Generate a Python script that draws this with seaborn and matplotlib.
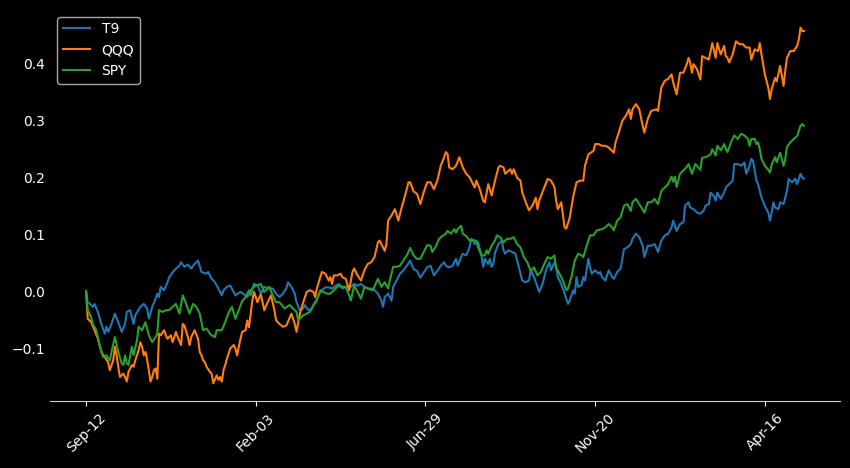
import matplotlib
matplotlib.use("Agg")
import matplotlib.pyplot as plt
import seaborn as sns
import pandas as pd

tick_positions = [0, 100, 200, 300, 400]
tick_labels = ["Sep-12", "Feb-03", "Jun-29", "Nov-20", "Apr-16"]
series_names = ["T9", "QQQ", "SPY"]
colors = ["#1f77b4", "#ff7f0e", "#2ca02c"]

# (trading-day index, cumulative return)
t9 = [(0, 0.0), (1, -0.019), (2, -0.021), (4, -0.027), (5, -0.022), (7, -0.036), (9, -0.057),
      (11, -0.074), (12, -0.062), (13, -0.071), (15, -0.057), (17, -0.039), (19, -0.054),
      (21, -0.071), (23, -0.057), (24, -0.036), (26, -0.033), (28, -0.057), (29, -0.042),
      (32, -0.027), (34, -0.022), (36, -0.030), (37, -0.048), (39, -0.027), (41, -0.013),
      (42, -0.004), (43, -0.010), (44, 0.008), (46, 0.002), (48, 0.016), (49, 0.025),
      (52, 0.037), (55, 0.045), (56, 0.051), (58, 0.043), (60, 0.047), (62, 0.040),
      (64, 0.048), (66, 0.054), (68, 0.034), (71, 0.031), (72, 0.034), (74, 0.022),
      (76, 0.016), (77, 0.010), (79, -0.001), (80, -0.007), (81, 0.002), (83, 0.008),
      (85, 0.010), (87, -0.001), (88, -0.007), (91, -0.001), (94, -0.007), (95, -0.010),
      (97, 0.002), (99, 0.008), (101, 0.012), (103, -0.004), (105, 0.008), (108, 0.005),
      (110, 0.005), (112, -0.004), (114, -0.010), (116, -0.004), (118, 0.005), (119, 0.016),
      (121, 0.008), (123, -0.004), (124, -0.019), (126, -0.033), (128, -0.030), (129, -0.024),
      (131, -0.033), (133, -0.030), (135, -0.019), (137, -0.007), (139, 0.002), (141, 0.007),
      (143, 0.007), (145, 0.005), (147, 0.010), (149, 0.013), (151, 0.005), (153, 0.008),
      (156, 0.008), (158, 0.013), (160, 0.010), (162, 0.013), (164, 0.008), (166, 0.005),
      (168, 0.005), (170, 0.002), (172, -0.004), (174, -0.016), (175, -0.027), (176, -0.010),
      (178, -0.004), (180, -0.016), (181, 0.008), (183, 0.019), (185, 0.031), (187, 0.037),
      (189, 0.045), (191, 0.054), (193, 0.039), (195, 0.036), (197, 0.024), (199, 0.033),
      (201, 0.042), (203, 0.045), (205, 0.028), (207, 0.036), (209, 0.045), (211, 0.051),
      (212, 0.045), (214, 0.042), (216, 0.045), (218, 0.057), (219, 0.045), (221, 0.060),
      (222, 0.066), (224, 0.063), (226, 0.077), (227, 0.092), (228, 0.090), (229, 0.083),
      (231, 0.086), (233, 0.063), (234, 0.043), (235, 0.057), (237, 0.048), (238, 0.057),
      (239, 0.043), (240, 0.048), (241, 0.068), (243, 0.083), (245, 0.089), (246, 0.072),
      (247, 0.066), (249, 0.072), (251, 0.069), (253, 0.066), (255, 0.043), (257, 0.019),
      (259, 0.016), (261, 0.019), (262, 0.037), (264, 0.025), (266, 0.008), (267, -0.001),
      (269, 0.013), (271, 0.037), (273, 0.051), (274, 0.037), (276, 0.051), (277, 0.042),
      (278, 0.025), (280, 0.013), (282, -0.004), (284, -0.022), (285, -0.016), (287, 0.002),
      (288, -0.004), (289, 0.025), (290, 0.008), (292, 0.011), (293, 0.025), (294, 0.019),
      (296, 0.057), (297, 0.042), (298, 0.031), (300, 0.037), (302, 0.031), (303, 0.034),
      (304, 0.025), (306, 0.019), (308, 0.037), (310, 0.025), (311, 0.022), (313, 0.034),
      (315, 0.040), (317, 0.074), (319, 0.077), (321, 0.083), (322, 0.092), (324, 0.101),
      (326, 0.095), (328, 0.080), (329, 0.060), (331, 0.080), (333, 0.080), (335, 0.083),
      (337, 0.069), (339, 0.089), (341, 0.098), (343, 0.101), (345, 0.112), (346, 0.124),
      (348, 0.106), (350, 0.118), (352, 0.121), (353, 0.150), (355, 0.156), (356, 0.147),
      (358, 0.144), (360, 0.138), (362, 0.136), (364, 0.142), (365, 0.150), (367, 0.153),
      (368, 0.173), (370, 0.167), (371, 0.159), (372, 0.173), (374, 0.162), (376, 0.173),
      (377, 0.182), (379, 0.188), (381, 0.194), (382, 0.223), (384, 0.223), (386, 0.220),
      (388, 0.226), (389, 0.206), (391, 0.220), (392, 0.232), (393, 0.229), (395, 0.194),
      (396, 0.188), (398, 0.164), (400, 0.150), (402, 0.138), (403, 0.124), (404, 0.138),
      (405, 0.156), (406, 0.147), (408, 0.144), (409, 0.156), (411, 0.153), (413, 0.176),
      (414, 0.197), (416, 0.191), (418, 0.197), (419, 0.188), (421, 0.206), (422, 0.200),
      (423, 0.197)]

qqq = [(0, 0.0), (1, -0.048), (3, -0.054), (5, -0.068), (7, -0.083), (9, -0.106), (11, -0.115),
       (13, -0.124), (14, -0.138), (16, -0.121), (17, -0.097), (18, -0.112), (19, -0.132),
       (20, -0.150), (22, -0.144), (23, -0.150), (24, -0.158), (25, -0.141), (27, -0.129),
       (28, -0.132), (29, -0.121), (31, -0.103), (32, -0.089), (33, -0.097), (34, -0.112),
       (35, -0.106), (36, -0.120), (37, -0.138), (38, -0.158), (39, -0.150), (40, -0.138),
       (41, -0.135), (42, -0.153), (43, -0.074), (44, -0.077), (46, -0.068), (47, -0.077),
       (48, -0.083), (50, -0.077), (51, -0.089), (52, -0.080), (53, -0.071), (54, -0.080),
       (56, -0.094), (57, -0.057), (58, -0.060), (60, -0.080), (61, -0.094), (62, -0.080),
       (64, -0.068), (66, -0.083), (67, -0.106), (68, -0.112), (69, -0.121), (70, -0.124),
       (71, -0.132), (73, -0.141), (74, -0.144), (75, -0.161), (77, -0.147), (78, -0.155),
       (79, -0.150), (80, -0.158), (81, -0.138), (82, -0.129), (83, -0.118), (85, -0.100),
       (87, -0.094), (88, -0.100), (89, -0.112), (91, -0.083), (92, -0.071), (94, -0.068),
       (95, -0.051), (96, -0.063), (97, -0.039), (98, -0.016), (99, -0.001), (100, -0.010),
       (101, -0.019), (103, -0.005), (105, -0.033), (107, -0.019), (109, -0.007), (111, -0.033),
       (112, -0.051), (114, -0.057), (116, -0.062), (118, -0.060), (121, -0.039), (123, -0.057),
       (124, -0.071), (126, -0.039), (128, -0.019), (130, -0.001), (132, 0.002), (134, -0.001),
       (135, -0.010), (136, 0.005), (138, 0.025), (139, 0.034), (141, 0.031), (143, 0.019),
       (144, 0.025), (145, 0.013), (146, 0.028), (148, 0.028), (150, 0.031), (151, 0.025),
       (153, 0.022), (155, 0.002), (157, 0.034), (158, 0.040), (160, 0.028), (162, 0.019),
       (164, 0.037), (166, 0.048), (168, 0.051), (170, 0.060), (172, 0.086), (173, 0.089),
       (176, 0.071), (177, 0.083), (178, 0.124), (180, 0.133), (182, 0.144), (184, 0.124),
       (186, 0.147), (188, 0.168), (190, 0.191), (191, 0.191), (193, 0.175), (195, 0.171),
       (197, 0.153), (199, 0.174), (201, 0.191), (203, 0.191), (205, 0.179), (207, 0.194),
       (209, 0.220), (211, 0.235), (212, 0.244), (213, 0.241), (214, 0.217), (216, 0.214),
       (218, 0.220), (220, 0.235), (222, 0.217), (224, 0.206), (226, 0.200), (228, 0.188),
       (229, 0.182), (230, 0.194), (232, 0.179), (234, 0.159), (235, 0.156), (237, 0.188),
       (239, 0.168), (241, 0.194), (243, 0.217), (244, 0.220), (246, 0.217), (247, 0.206),
       (250, 0.214), (251, 0.206), (252, 0.214), (254, 0.199), (256, 0.194), (257, 0.174),
       (259, 0.157), (261, 0.142), (263, 0.150), (265, 0.164), (266, 0.144), (267, 0.159),
       (269, 0.174), (272, 0.197), (274, 0.194), (276, 0.183), (277, 0.159), (278, 0.144),
       (280, 0.156), (282, 0.112), (283, 0.110), (285, 0.129), (287, 0.165), (289, 0.191),
       (291, 0.194), (293, 0.194), (294, 0.220), (296, 0.240), (299, 0.246), (300, 0.258),
       (302, 0.258), (304, 0.255), (306, 0.255), (308, 0.252), (310, 0.246), (311, 0.243),
       (312, 0.261), (314, 0.279), (316, 0.299), (318, 0.307), (320, 0.319), (321, 0.302),
       (322, 0.319), (324, 0.328), (326, 0.319), (328, 0.290), (329, 0.278), (331, 0.302),
       (333, 0.316), (336, 0.319), (337, 0.316), (339, 0.357), (341, 0.369), (343, 0.372),
       (345, 0.380), (346, 0.366), (348, 0.345), (350, 0.383), (352, 0.383), (354, 0.398),
       (355, 0.409), (356, 0.401), (357, 0.383), (358, 0.398), (360, 0.389), (362, 0.371),
       (363, 0.412), (365, 0.409), (367, 0.406), (369, 0.435), (371, 0.409), (372, 0.435),
       (374, 0.415), (376, 0.430), (377, 0.412), (378, 0.409), (379, 0.401), (381, 0.415),
       (383, 0.438), (385, 0.433), (387, 0.433), (389, 0.427), (391, 0.427), (392, 0.406),
       (394, 0.424), (396, 0.421), (397, 0.435), (398, 0.415), (400, 0.380), (402, 0.357),
       (403, 0.337), (404, 0.354), (406, 0.374), (407, 0.368), (409, 0.395), (411, 0.360),
       (412, 0.386), (413, 0.409), (415, 0.421), (417, 0.421), (419, 0.430), (420, 0.441),
       (421, 0.462), (422, 0.456), (423, 0.456)]

spy = [(0, 0.0), (1, -0.033), (3, -0.045), (4, -0.057), (6, -0.068), (8, -0.094), (10, -0.115),
       (12, -0.112), (14, -0.121), (15, -0.106), (17, -0.080), (19, -0.106), (21, -0.126),
       (22, -0.129), (23, -0.112), (24, -0.126), (25, -0.129), (27, -0.097), (28, -0.112),
       (30, -0.086), (31, -0.062), (33, -0.068), (35, -0.054), (37, -0.077), (39, -0.089),
       (41, -0.080), (42, -0.074), (43, -0.033), (45, -0.036), (47, -0.033), (49, -0.033),
       (51, -0.027), (53, -0.022), (55, -0.039), (57, -0.007), (59, -0.022), (61, -0.039),
       (63, -0.022), (65, -0.027), (67, -0.039), (69, -0.068), (71, -0.065), (73, -0.074),
       (74, -0.077), (76, -0.080), (77, -0.068), (78, -0.068), (80, -0.068), (82, -0.054),
       (84, -0.037), (86, -0.027), (88, -0.048), (90, -0.033), (92, -0.017), (94, -0.010),
       (96, 0.002), (97, -0.007), (99, 0.013), (101, 0.010), (103, 0.013), (105, -0.001),
       (108, 0.008), (110, -0.007), (112, -0.019), (114, -0.019), (117, -0.030), (120, -0.024),
       (122, -0.030), (124, -0.036), (125, -0.051), (127, -0.045), (128, -0.042), (130, -0.039),
       (132, -0.036), (134, -0.024), (136, -0.016), (138, 0.002), (140, -0.001), (142, -0.004),
       (144, -0.004), (146, 0.002), (148, 0.008), (150, 0.010), (151, 0.008), (153, 0.008),
       (155, -0.007), (156, -0.016), (158, 0.010), (160, -0.001), (162, -0.013), (164, 0.008),
       (166, 0.005), (169, 0.002), (172, 0.022), (174, 0.008), (176, 0.016), (178, 0.005),
       (179, 0.019), (181, 0.043), (183, 0.043), (185, 0.045), (187, 0.054), (189, 0.063),
       (191, 0.076), (193, 0.063), (195, 0.057), (197, 0.057), (199, 0.069), (201, 0.081),
       (203, 0.080), (204, 0.069), (206, 0.078), (208, 0.092), (210, 0.097), (212, 0.101),
       (213, 0.106), (215, 0.101), (217, 0.109), (218, 0.103), (219, 0.109), (221, 0.115),
       (222, 0.101), (224, 0.097), (226, 0.089), (228, 0.089), (230, 0.089), (231, 0.077),
       (233, 0.063), (235, 0.063), (236, 0.072), (237, 0.066), (239, 0.080), (241, 0.089),
       (242, 0.098), (244, 0.095), (246, 0.086), (248, 0.092), (250, 0.092), (252, 0.095),
       (254, 0.083), (256, 0.077), (258, 0.060), (260, 0.051), (262, 0.036), (264, 0.042),
       (266, 0.028), (268, 0.034), (270, 0.048), (272, 0.060), (274, 0.057), (276, 0.063),
       (277, 0.042), (279, 0.031), (281, 0.019), (283, 0.002), (284, 0.005), (286, 0.025),
       (288, 0.054), (290, 0.066), (292, 0.063), (293, 0.060), (295, 0.080), (297, 0.098),
       (299, 0.098), (301, 0.107), (304, 0.109), (306, 0.112), (308, 0.118), (310, 0.112),
       (311, 0.107), (313, 0.124), (315, 0.130), (317, 0.150), (319, 0.153), (321, 0.141),
       (322, 0.156), (324, 0.162), (326, 0.153), (329, 0.138), (331, 0.156), (333, 0.156),
       (335, 0.162), (337, 0.153), (339, 0.176), (341, 0.182), (343, 0.188), (345, 0.201),
       (346, 0.192), (347, 0.201), (348, 0.183), (350, 0.206), (352, 0.212), (354, 0.218),
       (355, 0.223), (357, 0.206), (359, 0.223), (362, 0.213), (363, 0.234), (365, 0.235),
       (368, 0.240), (369, 0.249), (371, 0.238), (372, 0.255), (374, 0.247), (376, 0.258),
       (377, 0.249), (378, 0.244), (380, 0.261), (382, 0.273), (384, 0.267), (386, 0.276),
       (388, 0.273), (390, 0.267), (391, 0.255), (392, 0.267), (394, 0.267), (395, 0.258),
       (396, 0.261), (397, 0.249), (398, 0.232), (400, 0.220), (402, 0.213), (403, 0.208),
       (404, 0.222), (406, 0.235), (407, 0.226), (409, 0.243), (411, 0.220), (412, 0.232),
       (413, 0.253), (415, 0.261), (417, 0.267), (419, 0.272), (420, 0.281), (421, 0.290),
       (422, 0.293), (423, 0.290)]

frames = []
for name, pts in zip(series_names, [t9, qqq, spy]):
    d = pd.DataFrame(pts, columns=["day", "ret"])
    d["ticker"] = name
    frames.append(d)
df = pd.concat(frames, ignore_index=True)

plt.style.use("dark_background")
fig = plt.figure(figsize=(8.5, 4.68), dpi=100)
ax = fig.add_axes([0.059, 0.143, 0.929, 0.836])

sns.lineplot(data=df, x="day", y="ret", hue="ticker", hue_order=series_names,
             palette=colors, linewidth=1.5, estimator=None, ax=ax)

sns.despine(ax=ax, left=True)
ax.spines["bottom"].set_color("#d0d0d0")
ax.set_xticks(tick_positions)
ax.set_xticklabels(tick_labels, rotation=45, ha="center")
ax.set_xlabel("")
ax.set_ylabel("")
ax.set_yticks([-0.1, 0.0, 0.1, 0.2, 0.3, 0.4])
ax.set_yticklabels(["\u22120.1", "0.0", "0.1", "0.2", "0.3", "0.4"])
ax.tick_params(axis="both", labelsize=10, colors="white")
ax.tick_params(axis="y", length=0)

handles, labels = ax.get_legend_handles_labels()
ax.legend(handles, labels, loc="upper left", frameon=True, edgecolor="#d0d0d0",
          facecolor="black", fontsize=10)

fig.savefig("out.png", dpi=100, facecolor="black")
